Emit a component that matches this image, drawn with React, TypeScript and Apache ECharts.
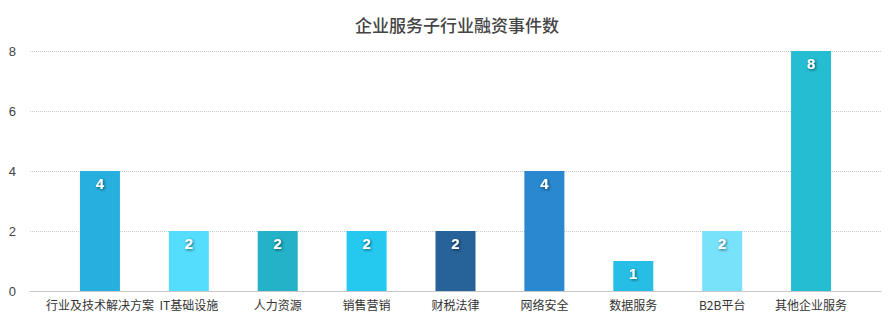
import React, { useEffect, useRef } from "react";
import * as echarts from "echarts";

const categories = ["行业及技术解决方案", "IT基础设施", "人力资源", "销售营销", "财税法律", "网络安全", "数据服务", "B2B平台", "其他企业服务"];
const values = [4, 2, 2, 2, 2, 4, 1, 2, 8];
const barColors = ["#26afdf", "#55ddfd", "#23b2c7", "#25c8ef", "#276299", "#2988cf", "#27bee6", "#78e2fa", "#25bdd2"];
const yTicks = [0, 2, 4, 6, 8];

export default function App() {
  const ref = useRef<HTMLDivElement>(null);
  useEffect(() => {
    if (!ref.current) return;
    const chart = echarts.init(ref.current, undefined, { renderer: "svg" });
    const font = "'Noto Sans CJK SC', 'Liberation Sans', sans-serif";
    chart.setOption({
      animation: false,
      title: {
        text: "企业服务子行业融资事件数",
        left: 350,
        top: 11,
        textStyle: { fontSize: 17, fontWeight: 500, color: "#444", fontFamily: font },
      },
      grid: [
        { left: 30, right: 12, top: 51, bottom: 28 },
        { left: 55.5, right: 37.5, top: 51, bottom: 28 },
      ],
      xAxis: [
        {
          type: "value",
          gridIndex: 0,
          min: 0,
          max: 1,
          axisLine: { show: true, onZero: false, lineStyle: { color: "#c8c8c8", width: 1 } },
          axisTick: { show: false },
          axisLabel: { show: false },
          splitLine: { show: false },
        },
        {
          type: "category",
          gridIndex: 1,
          data: categories,
          axisLine: { show: false },
          axisTick: { show: false },
          axisLabel: { color: "#333", fontSize: 12, fontFamily: font, margin: 7, interval: 0 },
        },
      ],
      yAxis: [
        {
          type: "value",
          gridIndex: 0,
          min: yTicks[0],
          max: yTicks[yTicks.length - 1],
          interval: 2,
          axisLine: { show: false },
          axisTick: { show: false },
          axisLabel: { color: "#444", fontSize: 13, fontFamily: "'Liberation Sans', sans-serif", margin: 14 },
          splitLine: { show: true, lineStyle: { color: "#ccc", type: "dotted", width: 1 } },
        },
        {
          type: "value",
          gridIndex: 1,
          min: 0,
          max: 8,
          interval: 2,
          show: false,
        },
      ],
      series: [
        {
          type: "bar",
          xAxisIndex: 1,
          yAxisIndex: 1,
          barWidth: 40,
          data: values.map((v, i) => ({ value: v, itemStyle: { color: barColors[i] } })),
          label: {
            show: true,
            position: "insideTop",
            distance: 5,
            color: "#fff",
            fontSize: 15,
            fontWeight: "bold",
            fontFamily: "'Liberation Sans', sans-serif",
            textShadowColor: "rgba(0,0,0,0.6)",
            textShadowBlur: 3,
            textShadowOffsetX: 1,
            textShadowOffsetY: 1,
          },
        },
      ],
    });
    return () => chart.dispose();
  }, []);
  return <div ref={ref} style={{ position: "absolute", left: 0, top: 0, width: 893, height: 319 }} />;
}
